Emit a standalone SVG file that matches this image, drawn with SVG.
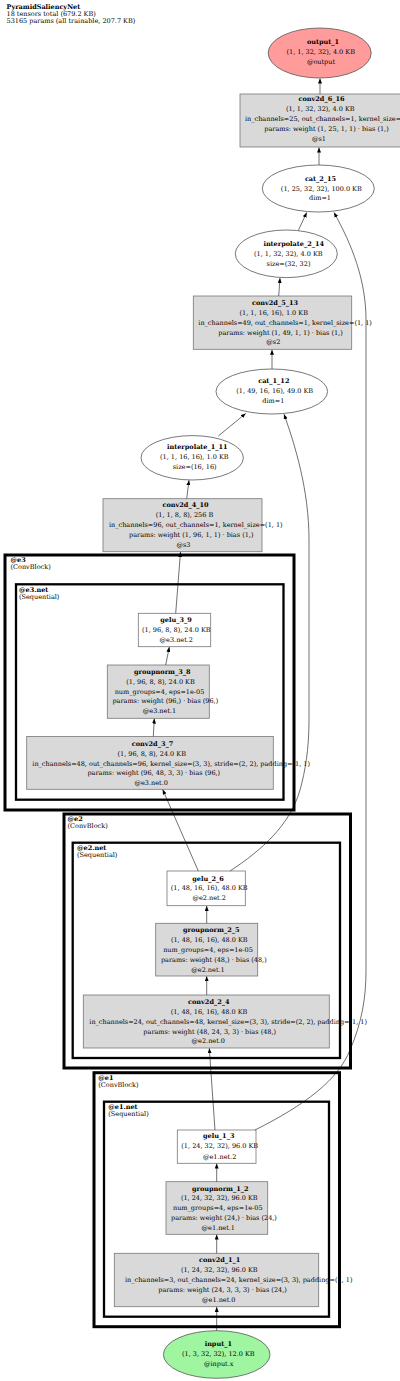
<svg xmlns="http://www.w3.org/2000/svg" width="400" height="1381" viewBox="0 0 400 1381">
<style>
text{font-family:"DejaVu Serif","Liberation Serif",serif;font-size:6.5px;fill:#000;text-anchor:middle}
.b{font-weight:bold}
.s{text-anchor:start}
.box{fill:#d9d9d9;stroke:#777;stroke-width:0.8}
.wbox{fill:#fff;stroke:#777;stroke-width:0.8}
.ell{fill:#fff;stroke:#555;stroke-width:0.8}
.cl{fill:none;stroke:#000;stroke-width:3}
.cli{fill:none;stroke:#000;stroke-width:2.3}
.e{fill:none;stroke:#333;stroke-width:0.7;marker-end:url(#ah)}
</style>
<defs>
<marker id="ah" markerWidth="5" markerHeight="4" refX="5" refY="2" orient="auto" markerUnits="userSpaceOnUse"><path d="M0,0 L5,2 L0,4 z" fill="#000"/></marker>
</defs>
<rect width="400" height="1381" fill="#fff"/>
<g id="header">
<text class="s b" x="6.5" y="9">PyramidSaliencyNet</text>
<text class="s" x="6.5" y="16.3">18 tensors total (679.2 KB)</text>
<text class="s" x="6.5" y="23.3">53165 params (all trainable, 207.7 KB)</text>
</g>
<g id="output_1">
<ellipse cx="319.7" cy="53" rx="51.5" ry="25" fill="#ff9b9b" stroke="#555" stroke-width="0.8"/>
<text class="b" x="323" y="44.3">output_1</text>
<text x="320.7" y="54.3">(1, 1, 32, 32), 4.0 KB</text>
<text x="321" y="64.3">@output</text>
</g>
<g id="conv2d_6_16">
<rect class="box" x="240" y="94" width="162" height="53"/>
<text class="b" x="321.5" y="101.3">conv2d_6_16</text>
<text x="320.3" y="111.3">(1, 1, 32, 32), 4.0 KB</text>
<text class="s" x="245" y="121.3">in_channels=25, out_channels=1, kernel_size=(1, 1)</text>
<text x="326.5" y="131.3">params: weight (1, 25, 1, 1) · bias (1,)</text>
<text x="319" y="141.3">@s1</text>
</g>
<g id="cat_2_15">
<ellipse class="ell" cx="318.3" cy="188.5" rx="56" ry="23.5"/>
<text class="b" x="320.5" y="180.6">cat_2_15</text>
<text x="321.3" y="190.6">(1, 25, 32, 32), 100.0 KB</text>
<text x="320" y="200">dim=1</text>
</g>
<g id="interpolate_2_14">
<ellipse class="ell" cx="286.3" cy="253.8" rx="51" ry="23.8"/>
<text class="b" x="293.7" y="246.3">interpolate_2_14</text>
<text x="288.3" y="256.3">(1, 1, 32, 32), 4.0 KB</text>
<text x="288.5" y="266">size=(32, 32)</text>
</g>
<g id="conv2d_5_13">
<rect class="box" x="193.3" y="296" width="158.4" height="53.3"/>
<text class="b" x="275" y="305">conv2d_5_13</text>
<text x="273.7" y="315">(1, 1, 16, 16), 1.0 KB</text>
<text class="s" x="198.3" y="325">in_channels=49, out_channels=1, kernel_size=(1, 1)</text>
<text class="s" x="218.3" y="335">params: weight (1, 49, 1, 1) · bias (1,)</text>
<text x="273.3" y="344.3">@s2</text>
</g>
<g id="cat_1_12">
<ellipse class="ell" cx="271.8" cy="391.5" rx="55.8" ry="22.5"/>
<text class="b" x="273.8" y="383">cat_1_12</text>
<text x="274.7" y="393">(1, 49, 16, 16), 49.0 KB</text>
<text x="273.3" y="402.6">dim=1</text>
</g>
<g id="interpolate_1_11">
<ellipse class="ell" cx="192.2" cy="457.8" rx="51.2" ry="22.2"/>
<text class="b" x="197.3" y="449">interpolate_1_11</text>
<text x="194.3" y="459">(1, 1, 16, 16), 1.0 KB</text>
<text x="194.7" y="468.6">size=(16, 16)</text>
</g>
<g id="conv2d_4_10">
<rect class="box" x="103" y="498.7" width="159" height="53"/>
<text class="b" x="185.5" y="507.3">conv2d_4_10</text>
<text x="184.5" y="517.3">(1, 1, 8, 8), 256 B</text>
<text class="s" x="109" y="527.3">in_channels=96, out_channels=1, kernel_size=(1, 1)</text>
<text class="s" x="129" y="537.3">params: weight (1, 96, 1, 1) · bias (1,)</text>
<text x="183.5" y="546.6">@s3</text>
</g>
<g id="gelu_3_9">
<rect class="wbox" x="138.3" y="613.3" width="72.4" height="33.4"/>
<text class="b" x="176" y="622.3">gelu_3_9</text>
<text x="176.3" y="632.3">(1, 96, 8, 8), 24.0 KB</text>
<text x="176.3" y="641.6">@e3.net.2</text>
</g>
<g id="groupnorm_3_8">
<rect class="box" x="107.3" y="665" width="102" height="53.3"/>
<text class="b" x="162.3" y="674">groupnorm_3_8</text>
<text x="160.5" y="684">(1, 96, 8, 8), 24.0 KB</text>
<text x="159.5" y="694">num_groups=4, eps=1e-05</text>
<text x="165.3" y="703.3">params: weight (96,) · bias (96,)</text>
<text x="159.5" y="713">@e3.net.1</text>
</g>
<g id="conv2d_3_7">
<rect class="box" x="26.7" y="736.5" width="246.6" height="52.8"/>
<text class="b" x="152.5" y="745.6">conv2d_3_7</text>
<text x="151.7" y="755.6">(1, 96, 8, 8), 24.0 KB</text>
<text class="s" x="32.3" y="765.6">in_channels=48, out_channels=96, kernel_size=(3, 3), stride=(2, 2), padding=(1, 1)</text>
<text x="153.8" y="775">params: weight (96, 48, 3, 3) · bias (96,)</text>
<text x="151.2" y="784.6">@e3.net.0</text>
</g>
<g id="gelu_2_6">
<rect class="wbox" x="167" y="871" width="78.3" height="34.7"/>
<text class="b" x="208" y="880.6">gelu_2_6</text>
<text x="209.2" y="890">(1, 48, 16, 16), 48.0 KB</text>
<text x="209.2" y="900">@e2.net.2</text>
</g>
<g id="groupnorm_2_5">
<rect class="box" x="155.7" y="923.3" width="102" height="52.7"/>
<text class="b" x="211.2" y="932.3">groupnorm_2_5</text>
<text x="209.3" y="942.3">(1, 48, 16, 16), 48.0 KB</text>
<text x="208" y="952.3">num_groups=4, eps=1e-05</text>
<text x="213.8" y="962.3">params: weight (48,) · bias (48,)</text>
<text x="208" y="972.3">@e2.net.1</text>
</g>
<g id="conv2d_2_4">
<rect class="box" x="83.3" y="995" width="246" height="53"/>
<text class="b" x="208.8" y="1004">conv2d_2_4</text>
<text x="209" y="1014">(1, 48, 16, 16), 48.0 KB</text>
<text class="s" x="89.3" y="1024">in_channels=24, out_channels=48, kernel_size=(3, 3), stride=(2, 2), padding=(1, 1)</text>
<text x="209.7" y="1033.6">params: weight (48, 24, 3, 3) · bias (48,)</text>
<text x="208.3" y="1043">@e2.net.0</text>
</g>
<g id="gelu_1_3">
<rect class="wbox" x="177.3" y="1130" width="78.7" height="33.3"/>
<text class="b" x="218.7" y="1138.3">gelu_1_3</text>
<text x="219.7" y="1148.3">(1, 24, 32, 32), 96.0 KB</text>
<text x="219.7" y="1159">@e1.net.2</text>
</g>
<g id="groupnorm_1_2">
<rect class="box" x="166" y="1181.7" width="101.7" height="52.6"/>
<text class="b" x="220.3" y="1190.6">groupnorm_1_2</text>
<text x="219.3" y="1200">(1, 24, 32, 32), 96.0 KB</text>
<text x="217.8" y="1210">num_groups=4, eps=1e-05</text>
<text x="224" y="1220">params: weight (24,) · bias (24,)</text>
<text x="218.3" y="1229.6">@e1.net.1</text>
</g>
<g id="conv2d_1_1">
<rect class="box" x="114.3" y="1253.3" width="204.4" height="53.4"/>
<text class="b" x="219.7" y="1262.3">conv2d_1_1</text>
<text x="219.3" y="1272.3">(1, 24, 32, 32), 96.0 KB</text>
<text class="s" x="125" y="1282.3">in_channels=3, out_channels=24, kernel_size=(3, 3), padding=(1, 1)</text>
<text x="222.5" y="1292.3">params: weight (24, 3, 3, 3) · bias (24,)</text>
<text x="218.8" y="1301.6">@e1.net.0</text>
</g>
<g id="input_1">
<ellipse cx="216.7" cy="1354.5" rx="53.3" ry="23.8" fill="#a0f5a0" stroke="#555" stroke-width="0.8"/>
<text class="b" x="218.3" y="1346.3">input_1</text>
<text x="218.3" y="1356.3">(1, 3, 32, 32), 12.0 KB</text>
<text x="218.7" y="1366.3">@input.x</text>
</g>
<g id="edges">
<path class="e" d="M320,94 L320,78.5"/>
<path class="e" d="M319,165 L319,147.5"/>
<path class="e" d="M298.3,230.5 L306.7,212.5"/>
<path class="e" d="M278.7,296 L280,278"/>
<path class="e" d="M255,1130 C305,1105 338,1080 350,1050 C362,1022 366,998 366,970 L366,320 C366,280 352,245 334,212.5"/>
<path class="e" d="M272,369 L272,349.8"/>
<path class="e" d="M218.3,436 L245.7,413.5"/>
<path class="e" d="M230,871 C262,850 290,825 300,790 C305,772 309,750 309,720 L309,540 C309,490 295,445 284,414.2"/>
<path class="e" d="M186.7,498.7 L189,480.3"/>
<path class="e" d="M175.7,613.3 L180.5,552"/>
<path class="e" d="M165.7,665 L169.3,647"/>
<path class="e" d="M153.3,736.5 L154.3,718.6"/>
<path class="e" d="M198.3,871 L162.7,789.6"/>
<path class="e" d="M206.7,923.3 L206.7,906"/>
<path class="e" d="M206.7,995 L206.7,976.3"/>
<path class="e" d="M215,1130 L209.3,1048.3"/>
<path class="e" d="M216.7,1181.7 L216.7,1163.6"/>
<path class="e" d="M216.7,1253.3 L216.7,1234.6"/>
<path class="e" d="M216.7,1330.7 L216.7,1307"/>
</g>
<g id="cluster_e3">
<rect class="cl" x="5" y="555" width="289" height="255"/>
<text class="s b" x="10.5" y="562.3">@e3</text>
<text class="s" x="10.5" y="569.3">(ConvBlock)</text>
</g>
<g id="cluster_e3_net">
<rect class="cli" x="16" y="584.3" width="267.5" height="215.4"/>
<text class="s b" x="19" y="591.6">@e3.net</text>
<text class="s" x="19" y="598.6">(Sequential)</text>
</g>
<g id="cluster_e2">
<rect class="cl" x="64" y="814" width="286.5" height="254"/>
<text class="s b" x="67.5" y="821.3">@e2</text>
<text class="s" x="67.5" y="828.3">(ConvBlock)</text>
</g>
<g id="cluster_e2_net">
<rect class="cli" x="72.7" y="842.7" width="267.3" height="215.3"/>
<text class="s b" x="77" y="850">@e2.net</text>
<text class="s" x="77" y="857">(Sequential)</text>
</g>
<g id="cluster_e1">
<rect class="cl" x="94" y="1072.7" width="245.5" height="254"/>
<text class="s b" x="98.3" y="1080">@e1</text>
<text class="s" x="98.3" y="1087">(ConvBlock)</text>
</g>
<g id="cluster_e1_net">
<rect class="cli" x="104" y="1101.7" width="225" height="215"/>
<text class="s b" x="108.3" y="1109">@e1.net</text>
<text class="s" x="108.3" y="1116">(Sequential)</text>
</g>
</svg>
